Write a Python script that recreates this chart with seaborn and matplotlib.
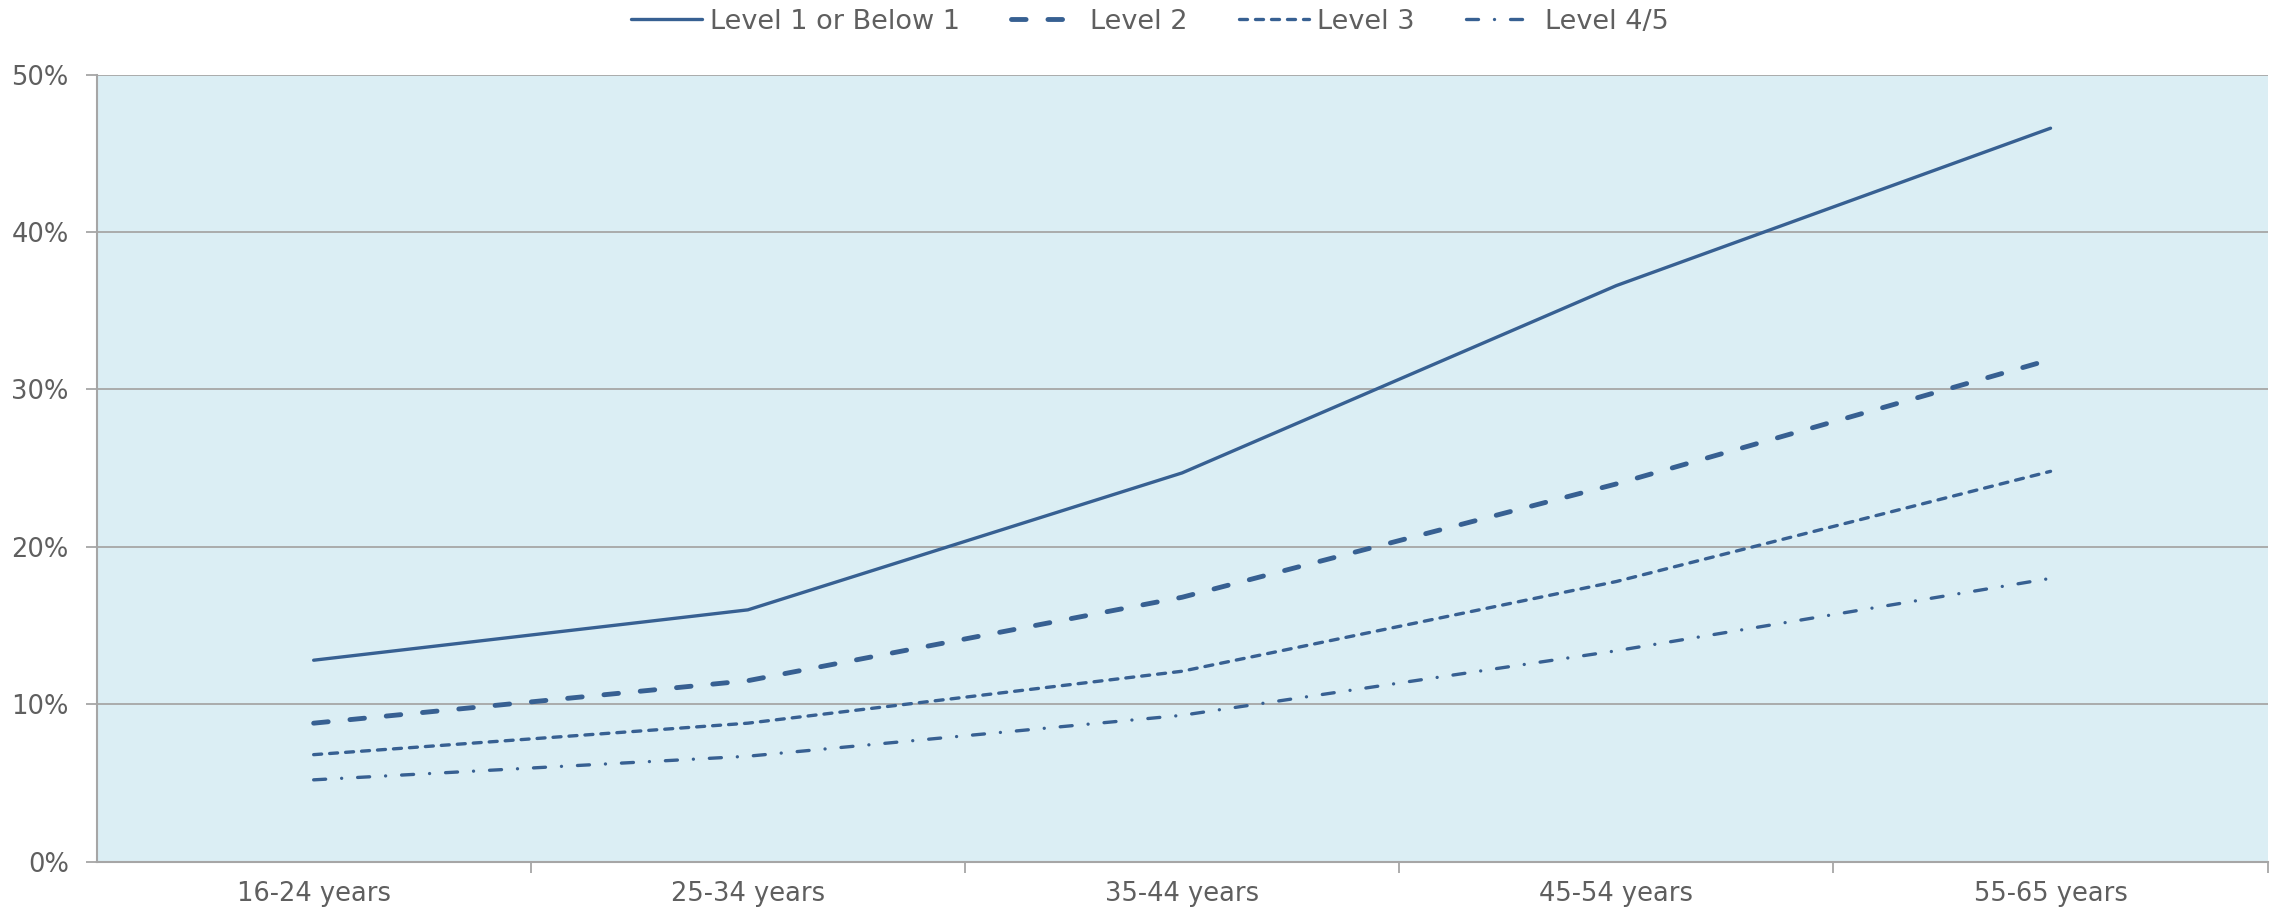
import matplotlib
matplotlib.use("Agg")
import matplotlib.pyplot as plt
from matplotlib.ticker import FixedLocator, PercentFormatter
import seaborn as sns
import pandas as pd

# Age bands along the x axis
age_groups = ["16-24 years", "25-34 years", "35-44 years", "45-54 years", "55-65 years"]

# Share (%) in each age band, by literacy level
level_1_or_below = [12.8, 16.0, 24.7, 36.6, 46.6]
level_2 = [8.8, 11.5, 16.8, 24.0, 31.9]
level_3 = [6.8, 8.8, 12.1, 17.8, 24.8]
level_4_5 = [5.2, 6.7, 9.3, 13.4, 18.0]

series_names = ["Level 1 or Below 1", "Level 2", "Level 3", "Level 4/5"]
series_values = [level_1_or_below, level_2, level_3, level_4_5]

df = pd.concat(
    [pd.DataFrame({"age": age_groups, "share": vals, "level": name})
     for name, vals in zip(series_names, series_values)],
    ignore_index=True,
)

LINE = "#376092"
BG = "#DBEEF4"
GRID = "#A6A6A6"
TEXT = "#5F5F5F"

# line styles (dash lengths in units of line width)
styles = {
    "Level 1 or Below 1": dict(lw=2.4, ls="-"),
    "Level 2": dict(lw=3.5, ls=(0, (3.0, 4.5))),
    "Level 3": dict(lw=2.4, ls=(0, (2.4, 2.4))),
    "Level 4/5": dict(lw=2.4, ls=(0, (3.6, 4.8, 0.01, 4.8))),
}

sns.set_theme(style="white")
plt.rcParams["font.family"] = ["DejaVu Sans"]

fig = plt.figure(figsize=(22.77, 9.13), dpi=100)
ax = fig.add_axes([0.0424, 0.0562, 0.9535, 0.8620])
ax.set_facecolor(BG)

for name in series_names:
    st = styles[name]
    sns.lineplot(
        data=df[df["level"] == name], x="age", y="share", ax=ax,
        color=LINE, linewidth=st["lw"], linestyle=st["ls"],
        dash_capstyle="round", solid_capstyle="round", sort=False,
        label=name, legend=False,
    )

ax.set_xlim(-0.5, len(age_groups) - 0.5)
ax.set_ylim(0, 50)

# horizontal gridlines
ax.yaxis.set_major_locator(FixedLocator([0, 10, 20, 30, 40, 50]))
ax.yaxis.set_major_formatter(PercentFormatter(decimals=0))
ax.grid(axis="y", color=GRID, linewidth=1.3)
ax.grid(axis="x", visible=False)
ax.set_axisbelow(True)

# category labels at centres, tick marks at category boundaries
ax.set_xticks(range(len(age_groups)))
ax.set_xticklabels(age_groups)
ax.xaxis.set_minor_locator(FixedLocator([i + 0.5 for i in range(len(age_groups))]))
ax.tick_params(axis="x", which="major", length=0, pad=14, labelsize=18.5, labelcolor=TEXT)
ax.tick_params(axis="x", which="minor", bottom=True, length=8, width=1.3, color=GRID, direction="out")
ax.tick_params(axis="y", which="major", left=True, length=8, width=1.3, color=GRID,
               direction="out", pad=12, labelsize=18.5, labelcolor=TEXT)

for side in ["top", "right"]:
    ax.spines[side].set_visible(False)
for side in ["left", "bottom"]:
    ax.spines[side].set_color(GRID)
    ax.spines[side].set_linewidth(1.5)

ax.set_xlabel("")
ax.set_ylabel("")

handles, labels = ax.get_legend_handles_labels()
fig.legend(
    handles, labels, loc="center", bbox_to_anchor=(0.505, 0.976), ncol=4,
    frameon=False, fontsize=19.5, labelcolor=TEXT, handlelength=2.6,
    handletextpad=0.3, columnspacing=1.9,
)

fig.savefig("out.png", dpi=100)
